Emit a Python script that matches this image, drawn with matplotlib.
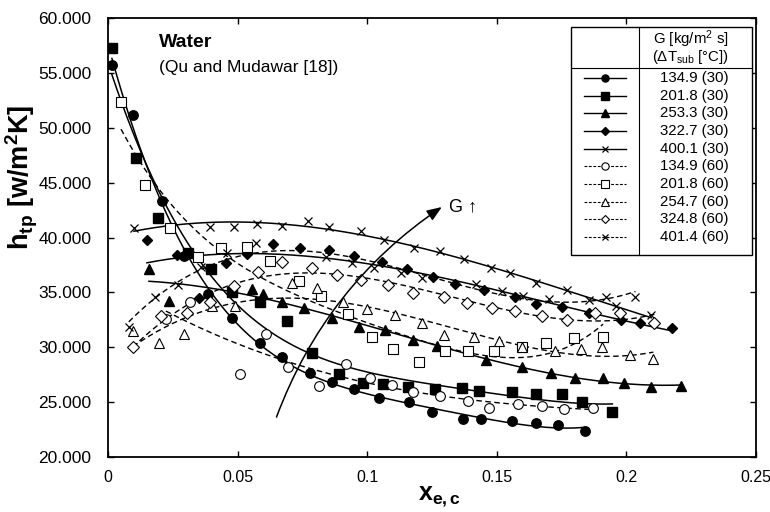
import numpy as np
import matplotlib
matplotlib.use("Agg")
import matplotlib.pyplot as plt
from matplotlib.lines import Line2D
from matplotlib.patches import Rectangle

plt.rcParams['font.family'] = ['Liberation Sans', 'DejaVu Sans']
plt.rcParams['mathtext.fontset'] = 'custom'
plt.rcParams['mathtext.rm'] = 'Liberation Sans'
plt.rcParams['mathtext.it'] = 'Liberation Sans:italic'
plt.rcParams['mathtext.bf'] = 'Liberation Sans:bold'

# ---- data (x_e,c  vs  h_tp in kW/m2K) ----
x_c30_135 = [0.0015, 0.0096, 0.0208, 0.0292, 0.0385, 0.048, 0.0585, 0.067, 0.078, 0.0866, 0.095,
             0.1046, 0.116, 0.125, 0.137, 0.144, 0.156, 0.165, 0.1735, 0.184]
h_c30_135 = [55.7, 51.2, 43.3, 38.3, 34.85, 32.7, 30.4, 29.1, 27.65, 26.8, 26.2,
             25.4, 25.0, 24.1, 23.5, 23.45, 23.3, 23.1, 22.9, 22.4]

x_s30_202 = [0.0015, 0.0108, 0.0192, 0.0308, 0.0396, 0.0477, 0.0585, 0.069, 0.0788, 0.089, 0.0985,
             0.106, 0.1158, 0.126, 0.1366, 0.143, 0.156, 0.165, 0.175, 0.183, 0.1946]
h_s30_202 = [57.3, 47.25, 41.8, 38.6, 37.1, 35.0, 34.1, 32.4, 29.5, 27.6, 26.75,
             26.65, 26.4, 26.2, 26.3, 26.0, 25.9, 25.75, 25.75, 25.0, 24.1]

x_t30_253 = [0.0158, 0.0235, 0.0554, 0.0596, 0.067, 0.0758, 0.0866, 0.097, 0.107, 0.1177, 0.127,
             0.146, 0.1596, 0.171, 0.180, 0.191, 0.199, 0.2096, 0.221]
h_t30_253 = [37.1, 34.2, 35.3, 34.85, 34.1, 33.6, 32.7, 31.85, 31.6, 30.7, 30.1,
             28.8, 28.2, 27.65, 27.2, 27.2, 26.75, 26.4, 26.5]

x_d30_323 = [0.0150, 0.0265, 0.035, 0.0454, 0.0535, 0.0635, 0.0742, 0.0854, 0.095, 0.1058, 0.1154,
             0.1254, 0.134, 0.145, 0.157, 0.165, 0.175, 0.1854, 0.198, 0.2054, 0.2177]
h_d30_323 = [39.8, 38.4, 34.5, 37.7, 38.5, 39.4, 39.05, 38.9, 38.3, 37.8, 37.1,
             36.4, 35.8, 35.2, 34.6, 33.9, 33.7, 33.1, 32.5, 32.2, 31.75]

x_x30_400 = [0.01, 0.0392, 0.0485, 0.0573, 0.067, 0.077, 0.0854, 0.0977, 0.1065, 0.118, 0.128,
             0.1373, 0.1477, 0.155, 0.165, 0.177, 0.1854, 0.1958, 0.2096]
h_x30_400 = [40.9, 41.0, 41.0, 41.2, 41.05, 41.5, 41.0, 40.6, 39.8, 39.05, 38.8,
             38.0, 37.2, 36.8, 35.85, 35.2, 34.3, 33.75, 32.9]

x_c60_135 = [0.0223, 0.0315, 0.0508, 0.0608, 0.0696, 0.0815, 0.092, 0.101, 0.1096, 0.1177, 0.128,
             0.1388, 0.147, 0.158, 0.1673, 0.1758, 0.1873]
h_c60_135 = [32.6, 34.1, 27.55, 31.2, 28.2, 26.5, 28.5, 27.2, 26.55, 25.9, 25.55,
             25.1, 24.5, 24.8, 24.65, 24.4, 24.5]

x_s60_202 = [0.005, 0.0142, 0.0238, 0.0346, 0.0435, 0.0535, 0.0623, 0.0735, 0.0823, 0.0925, 0.102,
             0.11, 0.12, 0.13, 0.139, 0.149, 0.1596, 0.169, 0.1796, 0.191]
h_s60_202 = [52.35, 44.8, 40.9, 38.2, 39.05, 39.1, 37.85, 36.05, 34.7, 33.05, 30.9,
             29.85, 28.65, 29.65, 29.65, 29.65, 30.0, 30.4, 30.85, 30.9]

x_t60_255 = [0.0096, 0.0196, 0.0292, 0.04, 0.0488, 0.0708, 0.0808, 0.0908, 0.1, 0.1108, 0.1212,
             0.1296, 0.1412, 0.151, 0.1596, 0.1723, 0.1823, 0.1904, 0.2015, 0.2104]
h_t60_255 = [31.5, 30.4, 31.2, 33.75, 33.75, 35.85, 35.4, 34.1, 33.5, 32.95, 32.2,
             31.1, 30.9, 30.55, 30.0, 29.65, 29.85, 30.0, 29.3, 28.9]

x_d60_325 = [0.0096, 0.0204, 0.0304, 0.0392, 0.0485, 0.0577, 0.0673, 0.0788, 0.0885, 0.0977, 0.108,
             0.1177, 0.1296, 0.1385, 0.148, 0.157, 0.1673, 0.177, 0.1877, 0.1977, 0.2108]
h_d60_325 = [30.0, 32.85, 33.1, 34.1, 35.6, 36.85, 37.8, 37.2, 36.6, 36.1, 35.7,
             34.95, 34.6, 34.0, 33.6, 33.3, 32.85, 32.5, 33.1, 33.1, 32.2]

x_x60_401 = [0.008, 0.018, 0.027, 0.036, 0.046, 0.057, 0.0842, 0.0942, 0.1027, 0.113, 0.121,
             0.142, 0.152, 0.160, 0.170, 0.192, 0.2035]
h_x60_401 = [31.85, 34.6, 35.7, 37.3, 38.6, 39.5, 38.2, 37.7, 37.2, 36.75, 36.3,
             35.8, 35.1, 34.7, 34.4, 34.6, 34.6]

legend_labels = ["134.9 (30)", "201.8 (30)", "253.3 (30)", "322.7 (30)", "400.1 (30)",
                 "134.9 (60)", "201.8 (60)", "254.7 (60)", "324.8 (60)", "401.4 (60)"]

x_ticks = [0, 0.05, 0.1, 0.15, 0.2, 0.25]
x_ticklabels = ["0", "0.05", "0.1", "0.15", "0.2", "0.25"]
y_ticks = [20, 25, 30, 35, 40, 45, 50, 55, 60]

# ---- styles ----
series = [
    (x_c30_135, h_c30_135, dict(marker='o', ms=6.8, mfc='black', mec='black'), '-', 4),
    (x_s30_202, h_s30_202, dict(marker='s', ms=6.8, mfc='black', mec='black'), '-', 4),
    (x_t30_253, h_t30_253, dict(marker='^', ms=7.2, mfc='black', mec='black'), '-', 3),
    (x_d30_323, h_d30_323, dict(marker='D', ms=5.6, mfc='black', mec='black'), '-', 3),
    (x_x30_400, h_x30_400, dict(marker='x', ms=5.5, mfc='none', mec='black', mew=0.9), '-', 3),
    (x_c60_135, h_c60_135, dict(marker='o', ms=7.0, mfc='white', mec='black', mew=0.8), '--', 3),
    (x_s60_202, h_s60_202, dict(marker='s', ms=6.8, mfc='white', mec='black', mew=0.8), '--', 4),
    (x_t60_255, h_t60_255, dict(marker='^', ms=7.5, mfc='white', mec='black', mew=0.8), '--', 4),
    (x_d60_325, h_d60_325, dict(marker='D', ms=5.8, mfc='white', mec='black', mew=0.8), '--', 3),
    (x_x60_401, h_x60_401, dict(marker='x', ms=5.5, mfc='none', mec='black', mew=0.9), '--', 3),
]

fig = plt.figure(figsize=(7.7, 5.12), dpi=100)
ax = fig.add_axes([0.1403, 0.1074, 0.8415, 0.8574])

for xs, hs, mk, ls, deg in series:
    xs = np.asarray(xs); hs = np.asarray(hs)
    coef = np.polyfit(xs, hs, deg)
    xf = np.linspace(xs.min(), xs.max(), 200)
    if ls == '-':
        ax.plot(xf, np.polyval(coef, xf), color='black', lw=1.1, zorder=2)
    else:
        ax.plot(xf, np.polyval(coef, xf), color='black', lw=1.0, dashes=(4, 2.5), zorder=2)
    ax.plot(xs, hs, linestyle='none', zorder=3, **mk)

ax.set_xlim(0, 0.25)
ax.set_ylim(20, 60)
ax.set_xticks(x_ticks)
ax.set_xticklabels(x_ticklabels)
ax.set_yticks(y_ticks)
ax.set_yticklabels([f"{v:.3f}" for v in y_ticks])
ax.tick_params(direction='in', top=True, right=True, length=4, width=1)
ax.tick_params(axis='x', labelsize=11.5, pad=9)
ax.tick_params(axis='y', labelsize=12.5, pad=12)
for s in ax.spines.values():
    s.set_linewidth(1.3)

ax.text(-0.133, 0.638, r"h$_{\mathbf{tp}}$ [w/m$^{\mathbf{2}}$K]", transform=ax.transAxes,
        rotation=90, ha='center', va='center', fontsize=19.5, fontweight='bold')
ax.text(0.512, -0.091, r"x$_{\mathbf{e,c}}$", transform=ax.transAxes,
        ha='center', va='center', fontsize=18, fontweight='bold')

ax.text(0.0195, 57.8, "Water", fontsize=14, fontweight='bold', ha='left', va='center')
ax.text(0.0195, 55.5, "(Qu and Mudawar [18])", fontsize=12.5, ha='left', va='center')

# G arrow
ax.annotate("", xy=(0.1288, 42.78), xytext=(0.065, 23.64),
            arrowprops=dict(arrowstyle='-|>,head_length=0.9,head_width=0.35', color='black', lw=1.1,
                            shrinkA=0, shrinkB=0, connectionstyle='arc3,rad=-0.16'))
ax.text(0.1315, 42.8, "G \u2191", fontsize=13, ha='left', va='center')

# legend table
tr = ax.transAxes
bx0, bx1, by0, by1 = 0.7145, 0.9938, 0.4601, 0.9795
xdiv, yhead = 0.8194, 0.8861
ax.add_patch(Rectangle((bx0, by0), bx1 - bx0, by1 - by0, transform=tr, fill=True,
                       facecolor='white', edgecolor='black', lw=1.0, zorder=5))
ax.add_line(Line2D([xdiv, xdiv], [by0, by1], transform=tr, color='black', lw=0.8, zorder=6))
ax.add_line(Line2D([bx0, bx1], [yhead, yhead], transform=tr, color='black', lw=0.8, zorder=6))
ax.text(0.8997, 0.952, "G [kg/m$^{2}$ s]", transform=tr, ha='center', va='center', fontsize=10.8, zorder=6)
ax.text(0.8997, 0.911, "(\u0394T$_{\\mathregular{sub}}$ [\u00b0C])", transform=tr, ha='center', va='center',
        fontsize=10.8, zorder=6)
row_top, row_step = 1 - (78 - 18) / 439, 17.67 / 439
for i, ((xs, hs, mk, ls, deg), lab) in enumerate(zip(series, legend_labels)):
    yy = row_top - i * row_step
    mk2 = dict(mk)
    mk2['ms'] = mk['ms'] * 0.75
    if ls == '-':
        ax.add_line(Line2D([0.7346, 0.80], [yy, yy], transform=tr, color='black', lw=1.0, zorder=6))
    else:
        ax.add_line(Line2D([0.7346, 0.80], [yy, yy], transform=tr, color='black', lw=0.8,
                           dashes=(2.5, 1.5), zorder=6))
    ax.add_line(Line2D([0.767], [yy], transform=tr, linestyle='none', zorder=7, **mk2))
    ax.text(0.8519, yy, lab, transform=tr, ha='left', va='center', fontsize=10.8, zorder=6)

fig.savefig("out.png", dpi=100)
